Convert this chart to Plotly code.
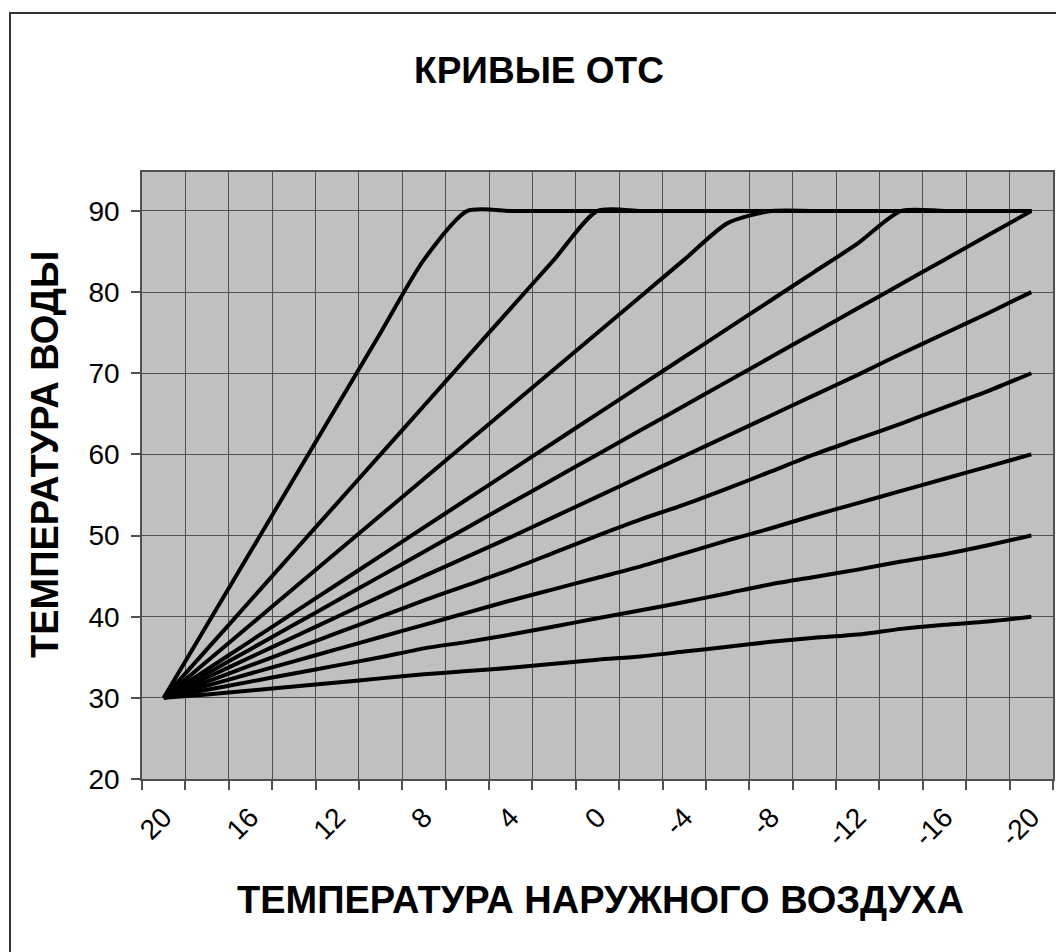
import plotly.graph_objects as go

# ---------------- data ----------------
outdoor_temp = [20, 18, 16, 14, 12, 10, 8, 6, 4, 2, 0, -2, -4, -6, -8, -10, -12, -14, -16, -18, -20]
tick_labels = ["20", "16", "12", "8", "4", "0", "-4", "-8", "-12", "-16", "-20"]

curve_1 = [30, 30.4, 30.9, 31.4, 31.9, 32.4, 32.9, 33.3, 33.7, 34.2, 34.7, 35.1, 35.7, 36.3, 36.9, 37.4, 37.8, 38.5, 39.0, 39.4, 40.0]
curve_2 = [30, 31, 32, 33, 34, 35, 36.1, 36.9, 37.8, 38.8, 39.8, 40.8, 41.8, 42.9, 44.0, 44.9, 45.8, 46.8, 47.7, 48.8, 50]
curve_3 = [30, 31.5, 33, 34.5, 36, 37.5, 39, 40.5, 42, 43.4, 44.8, 46.2, 47.8, 49.4, 50.9, 52.5, 54, 55.5, 57, 58.5, 60]
curve_4 = [30, 32, 34, 36, 38, 40, 42, 43.9, 45.8, 47.9, 50, 52, 53.8, 55.8, 57.9, 60, 61.9, 63.8, 65.8, 67.8, 70]
curve_5 = [30, 32.5, 35, 37.5, 40, 42.5, 45, 47.4, 49.8, 52.3, 54.8, 57.3, 59.8, 62.3, 64.8, 67.3, 69.8, 72.4, 74.9, 77.4, 80]
curve_6 = [30, 33, 36, 39, 42, 45, 48, 51, 54, 57, 60, 63, 66, 69, 72, 75, 78, 81, 84, 87, 90]
curve_7 = [30, 33.5, 37, 40.5, 44, 47.5, 51, 54.5, 58, 61.5, 65, 68.5, 72, 75.5, 79, 82.5, 86, 90, 90, 90, 90]
curve_8 = [30, 34.5, 39, 43.5, 48, 52.5, 57, 61.5, 66, 70.5, 75, 79.5, 84, 88.5, 90, 90, 90, 90, 90, 90, 90]
curve_9 = [30, 36, 42, 48, 54, 60, 66, 72, 78, 84, 90, 90, 90, 90, 90, 90, 90, 90, 90, 90, 90]
curve_10 = [30, 39, 48, 57, 66, 75, 84, 90, 90, 90, 90, 90, 90, 90, 90, 90, 90, 90, 90, 90, 90]

curves = [curve_1, curve_2, curve_3, curve_4, curve_5, curve_6, curve_7, curve_8, curve_9, curve_10]

# label positions: every second category; grid lines between categories
label_pos = outdoor_temp[::2]
step = outdoor_temp[0] - outdoor_temp[1]
boundaries = [t + step / 2 for t in outdoor_temp] + [outdoor_temp[-1] - step / 2]

FONT = "Liberation Sans, Arial, sans-serif"
GRID = "#505050"

# page has an 8px body margin; plot area in the screenshot: x 142..1053, y 172..779
OFF = 8
PL, PT, PW, PH = 142 - OFF, 172 - OFF, 911, 607
W, H = 1064, 952

def px_x(px):  # screenshot px -> paper x
    return (px - OFF - PL) / PW

def px_y(py):  # screenshot px -> paper y
    return (PT + PH - (py - OFF)) / PH

fig = go.Figure()
for c in curves:
    fig.add_trace(go.Scatter(
        x=outdoor_temp, y=c, mode="lines",
        line=dict(color="black", width=4, shape="spline", smoothing=0.7),
        showlegend=False, hoverinfo="skip",
    ))

fig.update_layout(
    width=W, height=H,
    margin=dict(l=PL, r=W - PL - PW, t=PT, b=H - PT - PH),
    paper_bgcolor="white",
    plot_bgcolor="#c0c0c0",
    font=dict(family=FONT, color="black"),
    title=dict(text="КРИВЫЕ ОТС", x=(539 - OFF) / W, xanchor="center", xref="container",
               y=1 - (70 - OFF) / H, yanchor="middle", yref="container",
               font=dict(size=37, family=FONT, color="black", weight="bold")),
    showlegend=False,
)

fig.update_xaxes(
    range=[boundaries[0], boundaries[-1]], automargin=False,
    tickmode="array", tickvals=label_pos, ticktext=tick_labels,
    tickangle=-45, tickfont=dict(size=28, family=FONT, color="black"),
    ticks="outside", ticklen=9, tickcolor="rgba(0,0,0,0)",
    showgrid=False, zeroline=False,
    showline=True, linecolor=GRID, linewidth=1.5, mirror=True,
    minor=dict(tickmode="array", tickvals=boundaries, ticks="outside", ticklen=9,
               tickcolor=GRID, tickwidth=1.5, showgrid=True, gridcolor=GRID, gridwidth=1.2),
)
fig.update_yaxes(
    range=[20, 94.8], automargin=False,
    tickmode="array", tickvals=[20, 30, 40, 50, 60, 70, 80, 90],
    tickfont=dict(size=28, family=FONT, color="black"),
    ticks="outside", ticklen=9, tickcolor=GRID, tickwidth=1.5, ticklabelstandoff=6,
    showgrid=True, gridcolor=GRID, gridwidth=1.2, zeroline=False,
    showline=True, linecolor=GRID, linewidth=1.5, mirror=True,
)

fig.add_annotation(text="ТЕМПЕРАТУРА НАРУЖНОГО ВОЗДУХА", xref="paper", yref="paper",
                   x=px_x(600), y=px_y(900), xanchor="center", yanchor="middle",
                   showarrow=False, font=dict(size=38, family=FONT, color="black", weight="bold"))
fig.add_annotation(text="ТЕМПЕРАТУРА ВОДЫ", xref="paper", yref="paper",
                   x=px_x(45), y=px_y(455), xanchor="center", yanchor="middle",
                   textangle=-90, showarrow=False,
                   font=dict(size=38, family=FONT, color="black", weight="bold"))

# chart-area frame
fig.add_shape(type="rect", xref="paper", yref="paper",
              x0=px_x(10), x1=px_x(1085), y0=px_y(975), y1=px_y(13),
              line=dict(color="#333333", width=2), fillcolor="rgba(0,0,0,0)", layer="below")

fig.write_html("out.html")
